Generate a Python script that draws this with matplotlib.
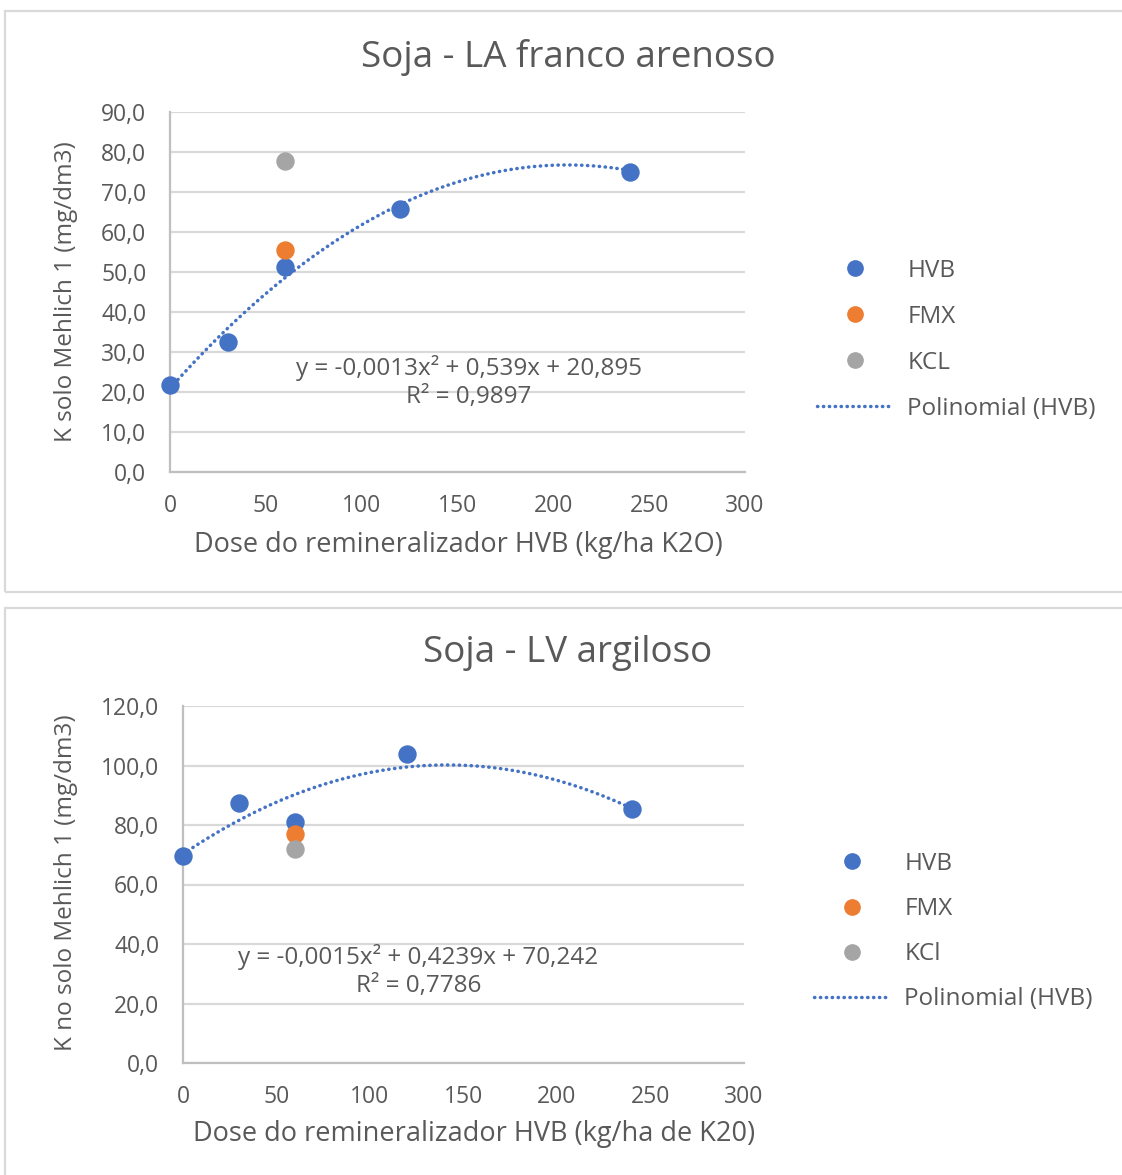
import numpy as np
import matplotlib.pyplot as plt
from matplotlib.patches import Rectangle
from matplotlib.lines import Line2D

plt.rcParams['font.family'] = ['Open Sans', 'DejaVu Sans']

# Soja - LA franco arenoso
la_hvb_x = [0, 30, 60, 120, 240]
la_hvb_y = [21.8, 32.5, 51.3, 65.8, 74.9]
la_fmx_x = [60]
la_fmx_y = [55.4]
la_kcl_x = [60]
la_kcl_y = [77.7]
la_coef = [-0.0013, 0.539, 20.895]
la_r2 = "0,9897"

# Soja - LV argiloso
lv_hvb_x = [0, 30, 60, 120, 240]
lv_hvb_y = [69.5, 87.4, 81.1, 103.8, 85.3]
lv_fmx_x = [60]
lv_fmx_y = [77.1]
lv_kcl_x = [60]
lv_kcl_y = [71.9]
lv_coef = [-0.0015, 0.4239, 70.242]
lv_r2 = "0,7786"

azul = '#4472C4'
laranja = '#ED7D31'
cinza = '#A5A5A5'
texto = '#595959'
grade = '#D9D9D9'

W, H = 1122, 1175
fig = plt.figure(figsize=(W / 100, H / 100), dpi=100)


def fx(px):
    return px / W


def fy(py):
    return 1 - py / H


# molduras dos graficos
for y0, y1 in [(11, 592), (608, 1185)]:
    fig.patches.append(Rectangle((fx(5), fy(y1)), fx(1130) - fx(5), fy(y0) - fy(y1),
                                 transform=fig.transFigure, fill=False,
                                 edgecolor=grade, linewidth=1.6))


def coef_txt(v, casas):
    return f"{abs(v):.{casas}f}".replace('.', ',')


pontilhado = (0, (0.1, 1.6))


def grafico(box, hx, hy, fxs, fys, kxs, kys, coef, r2, ymax, ystep,
            titulo, ylabel, xlabel, kcl_nome, eq_pos, r2_pos, leg_pos,
            tit_y, ylab_pos, xlab_pos, casas, espaco):
    ax = fig.add_axes(box)
    ax.set_xlim(0, 300)
    ax.set_ylim(0, ymax)
    ax.set_xticks(np.arange(0, 301, 50))
    yt = np.arange(0, ymax + 0.1, ystep)
    ax.set_yticks(yt)
    ax.set_yticklabels([f"{v:.1f}".replace('.', ',') for v in yt])
    ax.grid(axis='y', color=grade, linewidth=1.6)
    ax.set_axisbelow(True)
    for s in ['top', 'right']:
        ax.spines[s].set_visible(False)
    for s in ['left', 'bottom']:
        ax.spines[s].set_color('#BFBFBF')
        ax.spines[s].set_linewidth(1.6)
    ax.tick_params(length=0, labelsize=16.5, colors=texto)
    ax.tick_params(axis='y', pad=17)
    ax.tick_params(axis='x', pad=16)

    # linha de tendencia polinomial de 2a ordem
    xs = np.linspace(0, 240, 200)
    ys = np.polyval(coef, xs)
    ax.plot(xs, ys, color=azul, linewidth=2.5, linestyle=pontilhado,
            dash_capstyle='round', zorder=2)
    ax.scatter(hx, hy, s=150, color=azul, zorder=3, clip_on=False)
    ax.scatter(fxs, fys, s=150, color=laranja, zorder=3, clip_on=False)
    ax.scatter(kxs, kys, s=150, color=cinza, zorder=3, clip_on=False)

    eq = (f"y = -{coef_txt(coef[0], 4)}x² + {coef_txt(coef[1], casas)}x + "
          f"{coef_txt(coef[2], 3)}")
    ax.text(eq_pos[0], eq_pos[1], eq, ha='center', va='center', fontsize=17.5, color=texto)
    ax.text(r2_pos[0], r2_pos[1], f"R² = {r2}", ha='center', va='center',
            fontsize=17.5, color=texto)

    fig.text(fx(568), fy(tit_y), titulo, ha='center', va='center', fontsize=26.5, color=texto)
    fig.text(fx(ylab_pos[0]), fy(ylab_pos[1]), ylabel, rotation=90, ha='center',
             va='center', fontsize=17.5, color=texto)
    fig.text(fx(xlab_pos[0]), fy(xlab_pos[1]), xlabel, ha='center', va='center',
             fontsize=19.5, color=texto)

    handles = [
        Line2D([], [], linestyle='none', marker='o', markersize=11, color=azul),
        Line2D([], [], linestyle='none', marker='o', markersize=11, color=laranja),
        Line2D([], [], linestyle='none', marker='o', markersize=11, color=cinza),
        Line2D([], [], color=azul, linewidth=2.5, linestyle=pontilhado,
               dash_capstyle='round'),
    ]
    fig.legend(handles, ['HVB', 'FMX', kcl_nome, 'Polinomial (HVB)'],
               loc='upper left', bbox_to_anchor=leg_pos, frameon=False,
               fontsize=17.5, labelcolor=texto, handlelength=3.1,
               handletextpad=0.62, labelspacing=espaco, borderpad=0,
               borderaxespad=0)
    return ax


grafico([fx(170), fy(472), fx(745) - fx(170), fy(112) - fy(472)],
        la_hvb_x, la_hvb_y, la_fmx_x, la_fmx_y, la_kcl_x, la_kcl_y,
        la_coef, la_r2, 90, 10,
        "Soja - LA franco arenoso", "K solo Mehlich 1 (mg/dm3)",
        "Dose do remineralizador HVB (kg/ha K2O)", "KCL",
        (156, 26), (156, 18.8), (fx(817), fy(259)), 57, (66, 292), (458, 545), 3, 0.90)

grafico([fx(183), fy(1063), fx(744) - fx(183), fy(706) - fy(1063)],
        lv_hvb_x, lv_hvb_y, lv_fmx_x, lv_fmx_y, lv_kcl_x, lv_kcl_y,
        lv_coef, lv_r2, 120, 20,
        "Soja - LV argiloso", "K no solo Mehlich 1 (mg/dm3)",
        "Dose do remineralizador HVB (kg/ha de K20)", "KCl",
        (126, 35.6), (126, 25.9), (fx(814), fy(852)), 653, (66, 883), (474, 1134), 4, 0.87)

fig.savefig('out.png', dpi=100, facecolor='white')
